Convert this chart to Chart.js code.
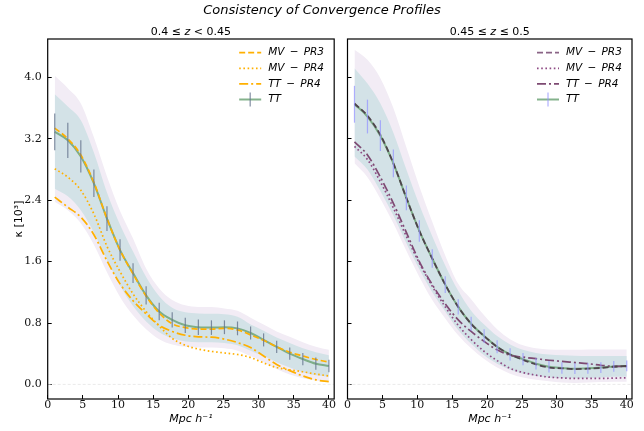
<!DOCTYPE html>
<html>
<head>
<meta charset="utf-8">
<script src="https://cdn.jsdelivr.net/npm/chart.js@4.4.0/dist/chart.umd.min.js"></script>
<style>
	body { margin: 0; background: #fff; width: 644px; height: 431px; position: relative; overflow: hidden; }
	canvas { position: absolute; top: 0; }
	#title { position: absolute; left: 0; top: 2px; width: 644px; text-align: center; font: italic 13px 'DejaVu Sans'; color: #000; }
</style>
</head>
<body>
<canvas id="lowChart" width="340" height="431" style="left:0"></canvas>
<canvas id="highChart" width="304" height="431" style="left:340px"></canvas>
<div id="title">Consistency of Convergence Profiles</div>
<script>
// radial bins, Mpc/h
const xPos = [1.0, 2.86, 4.71, 6.57, 8.43, 10.29, 12.14, 14.0, 15.86, 17.71, 19.57, 21.43, 23.29, 25.14, 27.0, 28.86, 30.71, 32.57, 34.43, 36.29, 38.14, 40.0];
const xTicks = [0, 5, 10, 15, 20, 25, 30, 35, 40];
const yTicks = [0.0, 0.8, 1.6, 2.4, 3.2, 4.0];

// 0.4 <= z < 0.45
const ttLow = [3.29, 3.18, 2.97, 2.62, 2.16, 1.75, 1.45, 1.16, 0.95, 0.84, 0.77, 0.745, 0.74, 0.745, 0.73, 0.67, 0.58, 0.49, 0.40, 0.33, 0.27, 0.24];
const errLow = [0.24, 0.23, 0.21, 0.18, 0.16, 0.14, 0.13, 0.12, 0.115, 0.10, 0.10, 0.10, 0.095, 0.09, 0.09, 0.085, 0.085, 0.08, 0.08, 0.08, 0.08, 0.08];
const mvPr3Low = [3.34, 3.20, 2.99, 2.63, 2.16, 1.75, 1.44, 1.15, 0.93, 0.79, 0.74, 0.72, 0.72, 0.73, 0.71, 0.645, 0.575, 0.49, 0.42, 0.37, 0.325, 0.29];
const mvPr4Low = [2.81, 2.70, 2.53, 2.22, 1.80, 1.47, 1.18, 0.95, 0.76, 0.60, 0.51, 0.46, 0.43, 0.41, 0.39, 0.35, 0.28, 0.22, 0.19, 0.165, 0.135, 0.11];
const ttPr4Low = [2.44, 2.31, 2.18, 1.95, 1.61, 1.31, 1.09, 0.92, 0.77, 0.69, 0.64, 0.62, 0.615, 0.59, 0.545, 0.48, 0.37, 0.26, 0.18, 0.11, 0.06, 0.035];
const outerUpLow = [4.02, 3.86, 3.66, 3.22, 2.71, 2.26, 1.90, 1.51, 1.25, 1.10, 1.03, 1.01, 1.01, 0.99, 0.96, 0.87, 0.78, 0.69, 0.62, 0.55, 0.49, 0.45];
const innerUpLow = [3.78, 3.62, 3.44, 3.02, 2.50, 2.08, 1.73, 1.40, 1.15, 1.00, 0.94, 0.925, 0.92, 0.915, 0.88, 0.78, 0.70, 0.61, 0.54, 0.47, 0.42, 0.38];
const innerLoLow = [2.55, 2.45, 2.27, 1.98, 1.62, 1.29, 1.02, 0.82, 0.68, 0.60, 0.56, 0.55, 0.55, 0.54, 0.51, 0.44, 0.37, 0.29, 0.22, 0.16, 0.12, 0.10];
const outerLoLow = [2.38, 2.27, 2.10, 1.82, 1.46, 1.14, 0.90, 0.72, 0.59, 0.52, 0.49, 0.48, 0.48, 0.47, 0.44, 0.37, 0.29, 0.20, 0.13, 0.08, 0.05, 0.035];

// 0.45 <= z <= 0.5
const ttHigh = [3.65, 3.49, 3.24, 2.88, 2.43, 2.00, 1.64, 1.30, 1.01, 0.79, 0.63, 0.49, 0.39, 0.33, 0.27, 0.23, 0.215, 0.205, 0.21, 0.22, 0.235, 0.24];
const errHigh = [0.24, 0.22, 0.20, 0.18, 0.16, 0.14, 0.12, 0.11, 0.10, 0.09, 0.09, 0.085, 0.08, 0.08, 0.075, 0.075, 0.075, 0.07, 0.07, 0.07, 0.07, 0.07];
const mvPr3High = [3.66, 3.50, 3.25, 2.88, 2.43, 2.00, 1.64, 1.30, 1.01, 0.79, 0.63, 0.49, 0.39, 0.32, 0.26, 0.22, 0.21, 0.20, 0.205, 0.215, 0.23, 0.24];
const mvPr4High = [3.10, 2.93, 2.64, 2.30, 1.93, 1.58, 1.28, 1.01, 0.77, 0.585, 0.43, 0.31, 0.21, 0.155, 0.12, 0.095, 0.085, 0.078, 0.078, 0.078, 0.082, 0.086];
const ttPr4High = [3.16, 2.99, 2.70, 2.36, 1.98, 1.60, 1.30, 1.05, 0.84, 0.69, 0.56, 0.45, 0.38, 0.355, 0.335, 0.315, 0.30, 0.285, 0.27, 0.25, 0.235, 0.235];
const outerUpHigh = [4.36, 4.23, 3.99, 3.60, 3.09, 2.58, 2.12, 1.68, 1.31, 1.11, 0.90, 0.72, 0.59, 0.51, 0.47, 0.455, 0.45, 0.45, 0.455, 0.455, 0.455, 0.455];
const innerUpHigh = [4.12, 3.92, 3.66, 3.28, 2.80, 2.34, 1.93, 1.55, 1.22, 0.96, 0.78, 0.63, 0.52, 0.45, 0.41, 0.39, 0.38, 0.375, 0.37, 0.37, 0.37, 0.37];
const innerLoHigh = [2.97, 2.80, 2.52, 2.20, 1.84, 1.50, 1.20, 0.95, 0.71, 0.53, 0.38, 0.27, 0.19, 0.14, 0.11, 0.09, 0.08, 0.08, 0.085, 0.09, 0.10, 0.10];
const outerLoHigh = [2.88, 2.70, 2.42, 2.10, 1.74, 1.40, 1.10, 0.86, 0.64, 0.47, 0.33, 0.22, 0.14, 0.09, 0.06, 0.04, 0.025, 0.02, 0.025, 0.03, 0.035, 0.035];

const toPoints = ys => ys.map((y, i) => ({x: xPos[i], y: y}));

const band = (ys, color, order, fillNext) => ({
	data: toPoints(ys),
	borderWidth: 0,
	pointRadius: 0,
	backgroundColor: color,
	fill: fillNext ? '+1' : false,
	cubicInterpolationMode: 'monotone',
	order: order
});

const line = (label, ys, color, dash, width, order) => ({
	label: label,
	data: toPoints(ys),
	borderColor: color,
	borderDash: dash,
	borderWidth: width,
	pointRadius: 0,
	fill: false,
	cubicInterpolationMode: 'monotone',
	order: order
});

const DASH = [6, 3];
const DOT = [1.6, 2.6];
const DASHDOT = [9, 3, 2, 3];

// zero line, error bars, frame, legend and subplot title
const panelPlugin = {
	id: 'panel',
	beforeDatasetsDraw(chart) {
		const {ctx, chartArea: a, scales: {y}} = chart;
		const py = y.getPixelForValue(0);
		ctx.save();
		ctx.strokeStyle = '#e4e4e4';
		ctx.lineWidth = 0.8;
		ctx.setLineDash([3, 2]);
		ctx.beginPath();
		ctx.moveTo(a.left, py);
		ctx.lineTo(a.right, py);
		ctx.stroke();
		ctx.restore();
	},
	afterDatasetsDraw(chart, args, opts) {
		const {ctx, scales: {x, y}} = chart;
		ctx.save();
		ctx.strokeStyle = opts.errColor;
		ctx.lineWidth = 1.2;
		opts.center.forEach((c, i) => {
			const px = x.getPixelForValue(xPos[i]);
			ctx.beginPath();
			ctx.moveTo(px, y.getPixelForValue(c - opts.err[i]));
			ctx.lineTo(px, y.getPixelForValue(c + opts.err[i]));
			ctx.stroke();
		});
		ctx.restore();
	},
	afterDraw(chart, args, opts) {
		const {ctx, chartArea: a} = chart;
		ctx.save();
		ctx.strokeStyle = '#000';
		ctx.lineWidth = 1.2;
		ctx.strokeRect(a.left, a.top, a.right - a.left, a.bottom - a.top);

		// legend
		const items = chart.data.datasets.filter(d => d.label);
		items.forEach((d, k) => {
			const ly = a.top + 13.7 + k * 15.6;
			const x0 = a.right - 95, x1 = a.right - 73;
			ctx.setLineDash(d.borderDash || []);
			ctx.strokeStyle = d.legendColor || d.borderColor;
			ctx.lineWidth = d.borderWidth;
			ctx.beginPath();
			ctx.moveTo(x0, ly);
			ctx.lineTo(x1, ly);
			ctx.stroke();
			if (d.errbar) {
				ctx.setLineDash([]);
				ctx.strokeStyle = opts.errColor;
				ctx.lineWidth = 1.2;
				ctx.beginPath();
				ctx.moveTo((x0 + x1) / 2, ly - 7);
				ctx.lineTo((x0 + x1) / 2, ly + 7);
				ctx.stroke();
			}
			ctx.fillStyle = '#000';
			ctx.font = 'italic 10.5px "DejaVu Sans"';
			ctx.textBaseline = 'middle';
			ctx.textAlign = 'left';
			ctx.fillText(d.label, a.right - 66, ly);
		});

		// subplot title, z in italics
		const parts = opts.title;
		const fonts = parts.map((p, i) => (i === 1 ? 'italic ' : '') + '11px "DejaVu Sans"');
		let w = 0;
		parts.forEach((p, i) => { ctx.font = fonts[i]; w += ctx.measureText(p).width; });
		let tx = (a.left + a.right) / 2 - w / 2;
		ctx.textBaseline = 'middle';
		parts.forEach((p, i) => {
			ctx.font = fonts[i];
			ctx.fillText(p, tx, 32.5);
			tx += ctx.measureText(p).width;
		});
		ctx.restore();
	}
};

const makeScales = (showY) => ({
	x: {
		type: 'linear',
		min: 0,
		max: 40.75,
		afterBuildTicks: s => { s.ticks = xTicks.map(v => ({value: v})); },
		afterFit: s => { s.height = 32; },
		grid: {drawOnChartArea: false, tickLength: -4, tickColor: '#000', tickWidth: 1},
		border: {display: false},
		ticks: {padding: 4, color: '#111', maxRotation: 0, font: {family: 'DejaVu Serif', size: 11}, callback: v => String(v)},
		title: {display: true, text: 'Mpc h⁻¹', color: '#000', font: {family: 'DejaVu Sans', style: 'italic', size: 11}, padding: {top: 0, bottom: 5}}
	},
	y: {
		type: 'linear',
		min: -0.19,
		max: 4.5,
		afterBuildTicks: s => { s.ticks = yTicks.map(v => ({value: v})); },
		afterFit: s => { s.width = showY ? 47.7 : 4.3; },
		grid: {drawOnChartArea: false, tickLength: -4, tickColor: '#000', tickWidth: 1},
		border: {display: false},
		ticks: {display: showY, padding: 10, color: '#111', font: {family: 'DejaVu Serif', size: 11}, callback: v => v.toFixed(1)},
		title: {display: showY, text: 'κ [10³]', color: '#000', font: {family: 'DejaVu Sans', size: 11}, padding: {top: 13, bottom: 0}}
	}
});

const makeChart = (id, cfg) => new Chart(document.getElementById(id).getContext('2d'), {
	type: 'line',
	data: {datasets: cfg.datasets},
	options: {
		responsive: false,
		animation: false,
		layout: {padding: cfg.padding},
		plugins: {
			legend: {display: false},
			tooltip: {enabled: false},
			panel: cfg.panel
		},
		scales: makeScales(cfg.showY)
	},
	plugins: [panelPlugin]
});

const ORANGE = '#ffb000';
const GREEN = 'rgba(110,165,120,0.85)';

const ttLowSet = line('TT', ttLow, GREEN, [], 2, 4);
ttLowSet.errbar = true;
makeChart('lowChart', {
	showY: true,
	padding: {top: 39, right: 5, bottom: 0, left: 0},
	datasets: [
		band(outerUpLow, '#f2ecf5', 11, true),
		band(outerLoLow, '#f2ecf5', 11, false),
		band(innerUpLow, '#d3e2e7', 10, true),
		band(innerLoLow, '#d3e2e7', 10, false),
		line('MV\u2002−\u2002PR3', mvPr3Low, ORANGE, DASH, 1.7, 1),
		line('MV\u2002−\u2002PR4', mvPr4Low, ORANGE, DOT, 1.7, 2),
		line('TT\u2002−\u2002PR4', ttPr4Low, ORANGE, DASHDOT, 1.7, 3),
		ttLowSet
	],
	panel: {title: ['0.4 ≤ ', 'z', ' < 0.45'], center: ttLow, err: errLow, errColor: 'rgba(100,115,140,0.8)'}
});

const ttHighSet = line('TT', ttHigh, GREEN, [], 2, 4);
ttHighSet.errbar = true;
const mvPr3HighSet = line('MV\u2002−\u2002PR3', mvPr3High, '#4f444c', DASH, 1.8, 1);
mvPr3HighSet.legendColor = '#8a6486';
makeChart('highChart', {
	showY: false,
	padding: {top: 39, right: 12, bottom: 0, left: 0},
	datasets: [
		band(outerUpHigh, '#f2ecf5', 11, true),
		band(outerLoHigh, '#f2ecf5', 11, false),
		band(innerUpHigh, '#d3e2e7', 10, true),
		band(innerLoHigh, '#d3e2e7', 10, false),
		mvPr3HighSet,
		line('MV\u2002−\u2002PR4', mvPr4High, '#8e4a84', DOT, 1.7, 2),
		line('TT\u2002−\u2002PR4', ttPr4High, '#7d4a72', DASHDOT, 1.7, 3),
		ttHighSet
	],
	panel: {title: ['0.45 ≤ ', 'z', ' ≤ 0.5'], center: ttHigh, err: errHigh, errColor: 'rgba(150,150,255,0.75)'}
});
</script>
</body>
</html>
